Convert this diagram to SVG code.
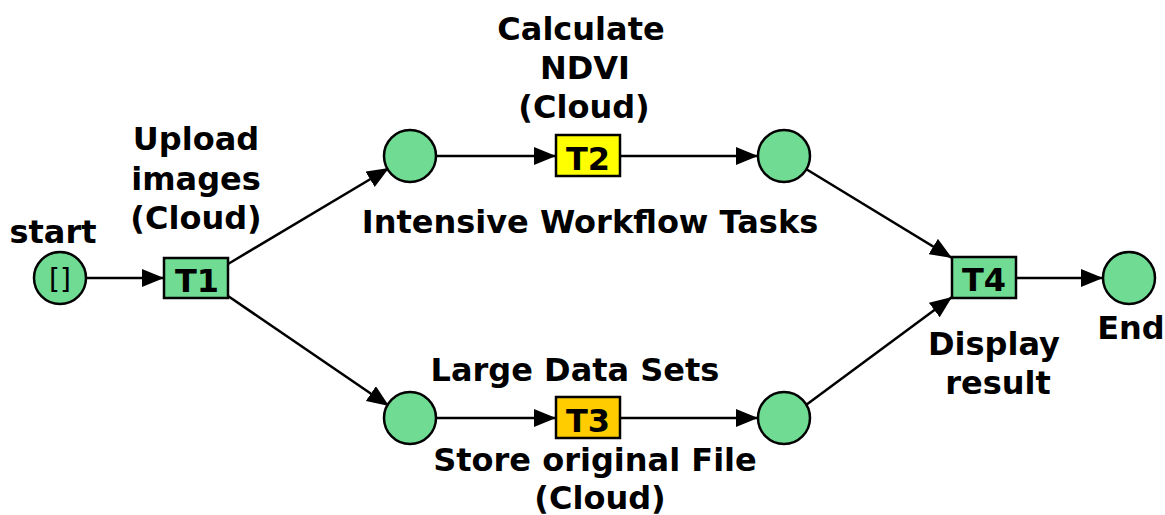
<svg xmlns="http://www.w3.org/2000/svg" width="1165" height="515" viewBox="0 0 1165 515">
<style>
.pl{fill:#6fdb93;stroke:#000;stroke-width:2.5}
.tr{stroke:#000;stroke-width:2.5}
.lb{font-family:"DejaVu Sans",sans-serif;font-weight:bold;font-size:32px;fill:#000;text-anchor:middle}
.tl{font-family:"DejaVu Sans",sans-serif;font-weight:bold;font-size:32px;fill:#000;text-anchor:middle}
.e{stroke:#000;stroke-width:2.5;fill:none;marker-end:url(#ah)}
</style>
<defs>
<marker id="ah" viewBox="0 0 22 18" refX="22" refY="9" markerWidth="22" markerHeight="18" markerUnits="userSpaceOnUse" orient="auto">
<path d="M0,0 L22,9 L0,18 z" fill="#000"/>
</marker>
</defs>
<rect width="1165" height="515" fill="#fff"/>
<g id="connectors">
<line class="e" x1="86" y1="278" x2="164" y2="278"/>
<line class="e" x1="228" y1="264" x2="389" y2="168"/>
<line class="e" x1="228" y1="296" x2="389" y2="406"/>
<line class="e" x1="436" y1="156" x2="556" y2="156"/>
<line class="e" x1="620" y1="156" x2="758" y2="156"/>
<line class="e" x1="436" y1="418" x2="556" y2="418"/>
<line class="e" x1="620" y1="418" x2="758" y2="418"/>
<line class="e" x1="806" y1="169" x2="952" y2="258"/>
<line class="e" x1="806" y1="405" x2="952" y2="297"/>
<line class="e" x1="1016" y1="278" x2="1103" y2="278"/>
</g>
<g id="start"><circle class="pl" cx="60" cy="278" r="26"/><text x="60" y="289" font-family="DejaVu Sans,sans-serif" font-size="28" text-anchor="middle">[]</text><text class="lb" x="53" y="243">start</text></g>
<g id="T1"><rect class="tr" x="164" y="258" width="64" height="40" fill="#6fdb93"/><text class="tl" x="197" y="292">T1</text>
<text class="lb" x="196" y="150">Upload</text><text class="lb" x="196" y="190">images</text><text class="lb" x="196" y="229">(Cloud)</text></g>
<g id="p1"><circle class="pl" cx="410" cy="156" r="26"/></g>
<g id="T2"><rect class="tr" x="556" y="135" width="64" height="41" fill="#ffff00"/><text class="tl" x="588" y="170">T2</text>
<text class="lb" x="581" y="40">Calculate</text><text class="lb" x="585" y="79">NDVI</text><text class="lb" x="584" y="118">(Cloud)</text></g>
<g id="p2"><circle class="pl" cx="784" cy="156" r="26"/></g>
<g id="p3"><circle class="pl" cx="410" cy="418" r="26"/></g>
<g id="T3"><rect class="tr" x="556" y="397" width="64" height="41" fill="#ffcc00"/><text class="tl" x="588" y="432">T3</text></g>
<g id="p4"><circle class="pl" cx="784" cy="418" r="26"/></g>
<g id="T4"><rect class="tr" x="952" y="257" width="64" height="41" fill="#6fdb93"/><text class="tl" x="984" y="291">T4</text>
<text class="lb" x="994" y="355">Display</text><text class="lb" x="998" y="394">result</text></g>
<g id="End"><circle class="pl" cx="1129" cy="278" r="26"/><text class="lb" x="1131" y="339">End</text></g>
<g id="labels">
<text class="lb" x="590" y="233">Intensive Workflow Tasks</text>
<text class="lb" x="575" y="381">Large Data Sets</text>
<text class="lb" x="595" y="471">Store original File</text>
<text class="lb" x="600" y="509">(Cloud)</text>
</g>
</svg>
